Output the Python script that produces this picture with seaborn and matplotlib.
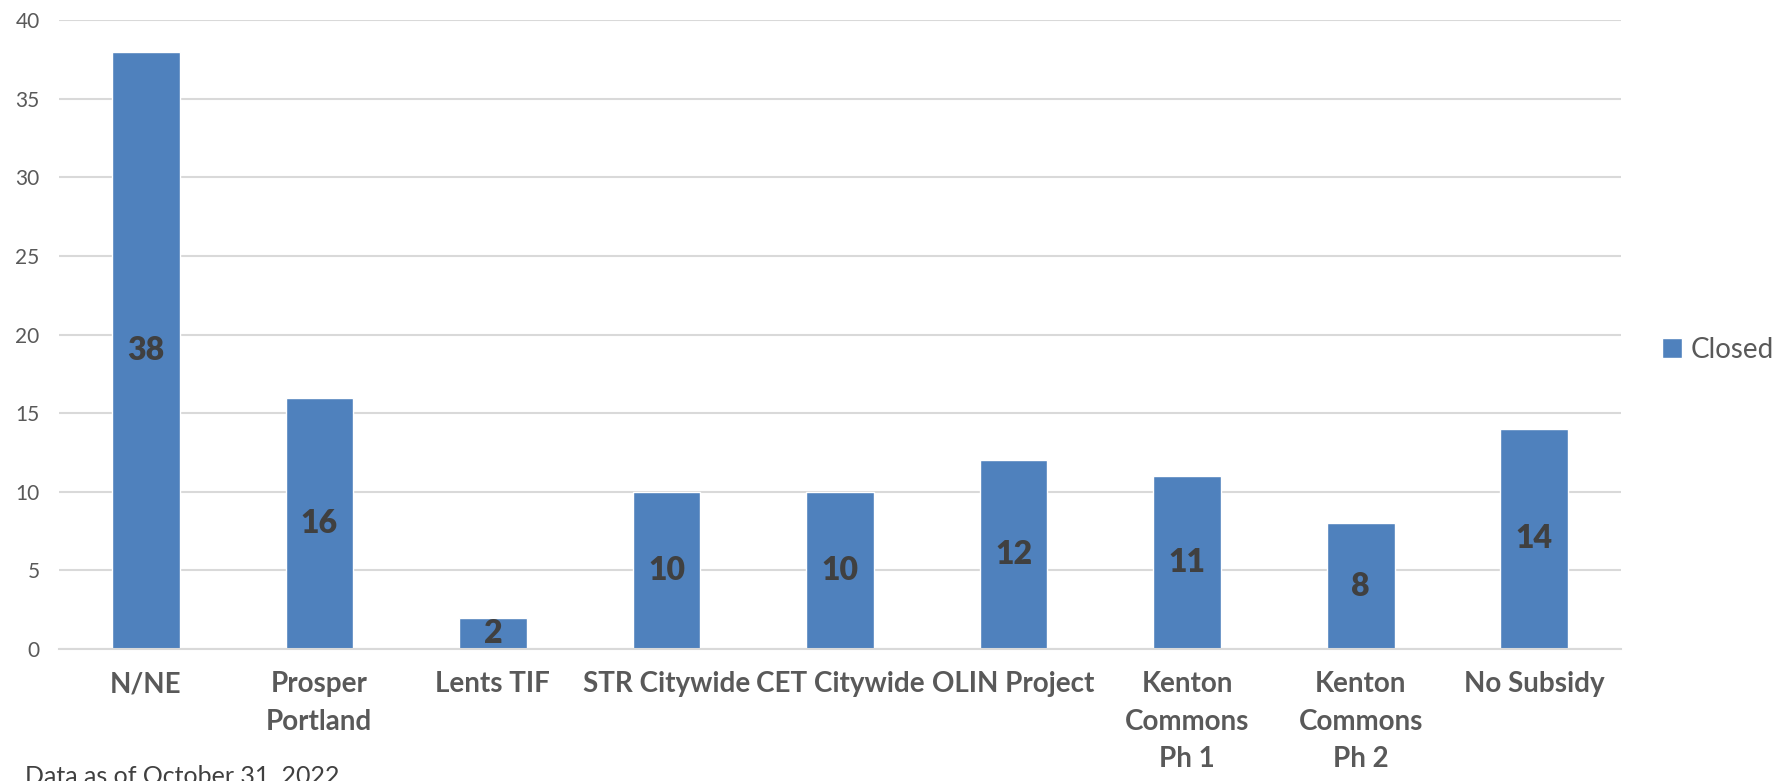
import pandas as pd
import seaborn as sns
import matplotlib.pyplot as plt

# Closed loans by program
programs = ["N/NE", "Prosper\nPortland", "Lents TIF", "STR Citywide", "CET Citywide",
            "OLIN Project", "Kenton\nCommons\nPh 1", "Kenton\nCommons\nPh 2", "No Subsidy"]
closed = [38, 16, 2, 10, 10, 12, 11, 8, 14]
y_ticks = [0, 5, 10, 15, 20, 25, 30, 35, 40]
footnote = "Data as of October 31, 2022"


def main():
    sns.set_theme(style="white")
    plt.rcParams["font.family"] = ["Lato", "DejaVu Sans"]

    df = pd.DataFrame({"Program": programs, "Closed": closed})

    fig = plt.figure(figsize=(17.78, 7.81), dpi=100)
    ax = fig.add_axes([0.0332, 0.169, 0.8785, 0.805])

    sns.barplot(data=df, x="Program", y="Closed", color="#4F81BD",
                saturation=1, width=0.39, label="Closed", ax=ax)

    ax.bar_label(ax.containers[0], label_type="center", fontsize=23,
                 fontweight="heavy", color="#404040")

    ax.set_ylim(0, 40)
    ax.set_yticks(y_ticks)
    ax.yaxis.grid(True, color="#D9D9D9", linewidth=1.5)
    ax.set_axisbelow(True)
    for s in ["top", "right", "left"]:
        ax.spines[s].set_visible(False)
    ax.spines["bottom"].set_color("#D9D9D9")
    ax.spines["bottom"].set_linewidth(1.5)

    ax.set_xlabel("")
    ax.set_ylabel("")
    ax.tick_params(axis="y", labelsize=15, labelcolor="#595959", length=0, pad=14)
    ax.tick_params(axis="x", labelsize=20, labelcolor="#595959", length=0, pad=16)
    for lbl in ax.get_xticklabels():
        lbl.set_fontweight("bold")
        lbl.set_verticalalignment("top")
        lbl.set_linespacing(1.55)

    leg = ax.legend(loc="center left", bbox_to_anchor=(0.935, 0.552),
                    bbox_transform=fig.transFigure, frameon=False,
                    fontsize=20, handlelength=0.7, handleheight=0.7,
                    handletextpad=0.3, borderaxespad=0, borderpad=0)
    for t in leg.get_texts():
        t.set_color("#595959")

    fig.text(0.014, 0.021, footnote, fontsize=18, color="#404040", va="top", ha="left")

    fig.savefig("out.png", dpi=100)


if __name__ == "__main__":
    main()
